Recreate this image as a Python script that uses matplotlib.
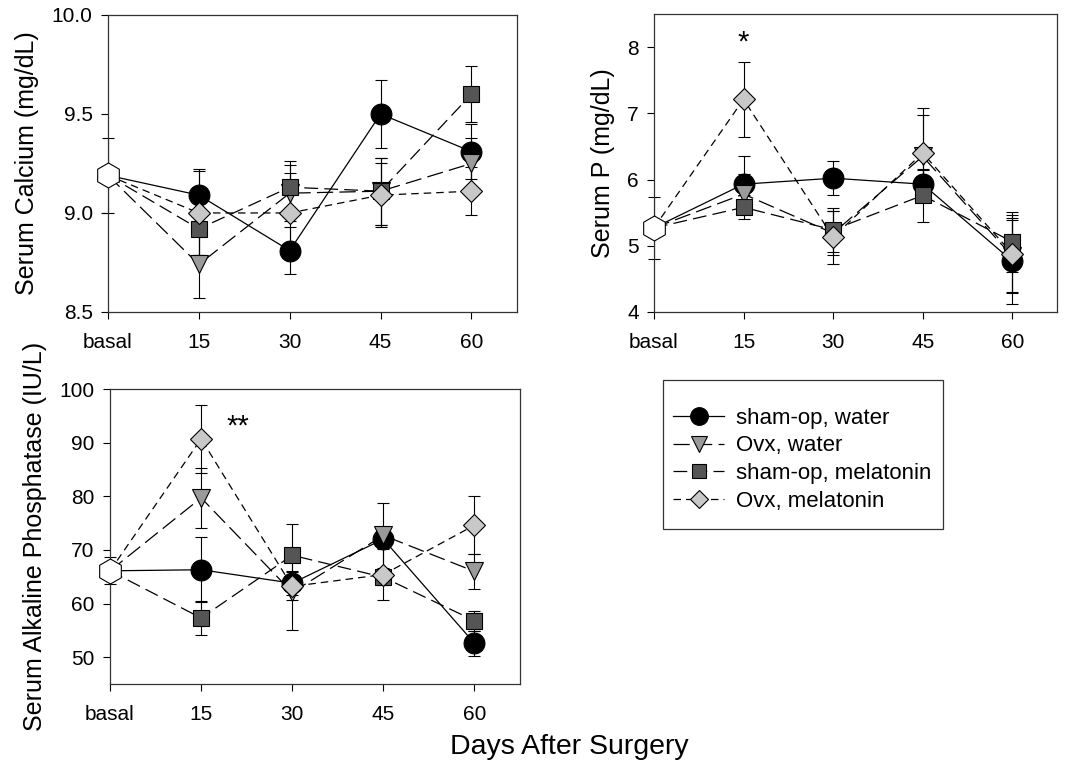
import matplotlib
matplotlib.use("Agg")
import matplotlib.pyplot as plt
from matplotlib.patches import Rectangle
from matplotlib.lines import Line2D

plt.rcParams['font.family'] = ['Liberation Sans', 'DejaVu Sans']

days = ["basal", "15", "30", "45", "60"]
groups = ["sham-op, water", "Ovx, water", "sham-op, melatonin", "Ovx, melatonin"]

# serum calcium (mg/dL), basal shared by all groups
ca_basal, ca_basal_err = 9.19, 0.19
ca_mean = {
    "sham-op, water":     [9.09, 8.81, 9.50, 9.31],
    "Ovx, water":         [8.74, 9.10, 9.11, 9.25],
    "sham-op, melatonin": [8.92, 9.13, 9.11, 9.60],
    "Ovx, melatonin":     [9.00, 9.00, 9.09, 9.11],
}
ca_err = {
    "sham-op, water":     [0.13, 0.12, 0.17, 0.14],
    "Ovx, water":         [0.17, 0.14, 0.17, 0.13],
    "sham-op, melatonin": [0.13, 0.13, 0.17, 0.14],
    "Ovx, melatonin":     [0.21, 0.20, 0.16, 0.12],
}

# serum phosphorus (mg/dL)
p_basal, p_basal_err = 5.27, 0.47
p_mean = {
    "sham-op, water":     [5.93, 6.02, 5.93, 4.77],
    "Ovx, water":         [5.78, 5.19, 6.35, 4.84],
    "sham-op, melatonin": [5.58, 5.24, 5.76, 5.06],
    "Ovx, melatonin":     [7.21, 5.13, 6.40, 4.88],
}
p_err = {
    "sham-op, water":     [0.43, 0.26, 0.22, 0.65],
    "Ovx, water":         [0.30, 0.33, 0.62, 0.55],
    "sham-op, melatonin": [0.18, 0.33, 0.40, 0.45],
    "Ovx, melatonin":     [0.57, 0.40, 0.68, 0.58],
}

# serum alkaline phosphatase (IU/L)
alp_basal, alp_basal_err = 66.1, 2.5
alp_mean = {
    "sham-op, water":     [66.3, 63.8, 72.0, 52.6],
    "Ovx, water":         [79.7, 62.1, 72.7, 66.0],
    "sham-op, melatonin": [57.3, 69.0, 64.9, 56.8],
    "Ovx, melatonin":     [90.7, 63.2, 65.4, 74.6],
}
alp_err = {
    "sham-op, water":     [6.1, 2.2, 1.6, 2.3],
    "Ovx, water":         [5.6, 7.0, 6.0, 3.3],
    "sham-op, melatonin": [3.1, 5.8, 1.5, 1.9],
    "Ovx, melatonin":     [6.3, 2.6, 4.8, 5.4],
}

styles = {
    "sham-op, water":     dict(marker="o", mfc="black", ms=15, ls="-"),
    "Ovx, water":         dict(marker="v", mfc="#9a9a9a", ms=13, ls=(0, (13, 5))),
    "sham-op, melatonin": dict(marker="s", mfc="#555555", ms=12, ls=(0, (11, 5))),
    "Ovx, melatonin":     dict(marker="D", mfc="#c8c8c8", ms=11, ls=(0, (6, 4))),
}


def panel(ax, basal, basal_err, means, errs, ylim, yticks, yfmt, ylabel):
    x = list(range(len(days)))
    for g in groups:
        st = styles[g]
        ys = [basal] + means[g]
        ax.errorbar(x[1:], means[g], yerr=errs[g], fmt="none", ecolor="black",
                    elinewidth=0.8, capsize=4, capthick=0.8, zorder=2)
        ax.plot(x, ys, color="black", lw=0.9, ls=st["ls"], zorder=3)
        ax.plot(x[1:], means[g], ls="none", marker=st["marker"], ms=st["ms"],
                mfc=st["mfc"], mec="black", mew=0.8, zorder=4)
    ax.errorbar([0], [basal], yerr=[basal_err], fmt="none", ecolor="black",
                elinewidth=0.8, capsize=4, capthick=0.8, zorder=2)
    ax.plot([0], [basal], ls="none", marker="h", ms=18, mfc="white",
            mec="black", mew=0.8, zorder=5)
    ax.set_xlim(0, 4.5)
    ax.set_ylim(*ylim)
    ax.set_xticks(x)
    ax.set_xticklabels(days)
    ax.set_yticks(yticks)
    ax.set_yticklabels([yfmt.format(v) for v in yticks])
    ax.tick_params(labelsize=15, length=5, width=0.8, direction="out", pad=6)
    ax.tick_params(axis="x", pad=10)
    for s in ax.spines.values():
        s.set_linewidth(0.9)
        s.set_color("#333333")
    ax.set_ylabel(ylabel, fontsize=18, labelpad=9)
    for art in ax.lines:
        art.set_clip_on(False)


fig = plt.figure(figsize=(10.86, 7.72), dpi=100)

ax1 = fig.add_axes([0.0994, 0.5959, 0.3766, 0.3847])
panel(ax1, ca_basal, ca_basal_err, ca_mean, ca_err, (8.5, 10.0),
      [8.5, 9.0, 9.5, 10.0], "{:.1f}", "Serum Calcium (mg/dL)")

ax2 = fig.add_axes([0.6022, 0.5959, 0.3711, 0.3860])
panel(ax2, p_basal, p_basal_err, p_mean, p_err, (4, 8.5),
      [4, 5, 6, 7, 8], "{:.0f}", "Serum P (mg/dL)")
ax2.text(1, 8.07, "*", ha="center", va="center", fontsize=21)

ax3 = fig.add_axes([0.1013, 0.1140, 0.3775, 0.3821])
panel(ax3, alp_basal, alp_basal_err, alp_mean, alp_err, (45, 100),
      [50, 60, 70, 80, 90, 100], "{:.0f}", "Serum Alkaline Phosphatase (IU/L)")
ax3.text(1.4, 93.0, "**", ha="center", va="center", fontsize=21)

fig.text(0.524, 0.032, "Days After Surgery", ha="center", va="center", fontsize=20.5)

# legend box
fig.patches.append(Rectangle((0.6105, 0.3148), 0.2578, 0.193, transform=fig.transFigure,
                             fill=False, edgecolor="#333333", lw=0.9))
handles = [Line2D([0], [0], color="black", lw=0.9, ls=styles[g]["ls"],
                  marker=styles[g]["marker"], ms=styles[g]["ms"] * 0.85,
                  mfc=styles[g]["mfc"], mec="black", mew=0.8) for g in groups]
fig.legend(handles, groups, loc="upper left", bbox_to_anchor=(0.6075, 0.489),
           frameon=False, fontsize=16, handlelength=2.3, handletextpad=0.55,
           labelspacing=0.3, borderpad=0.1)

fig.savefig("out.png", dpi=100)
